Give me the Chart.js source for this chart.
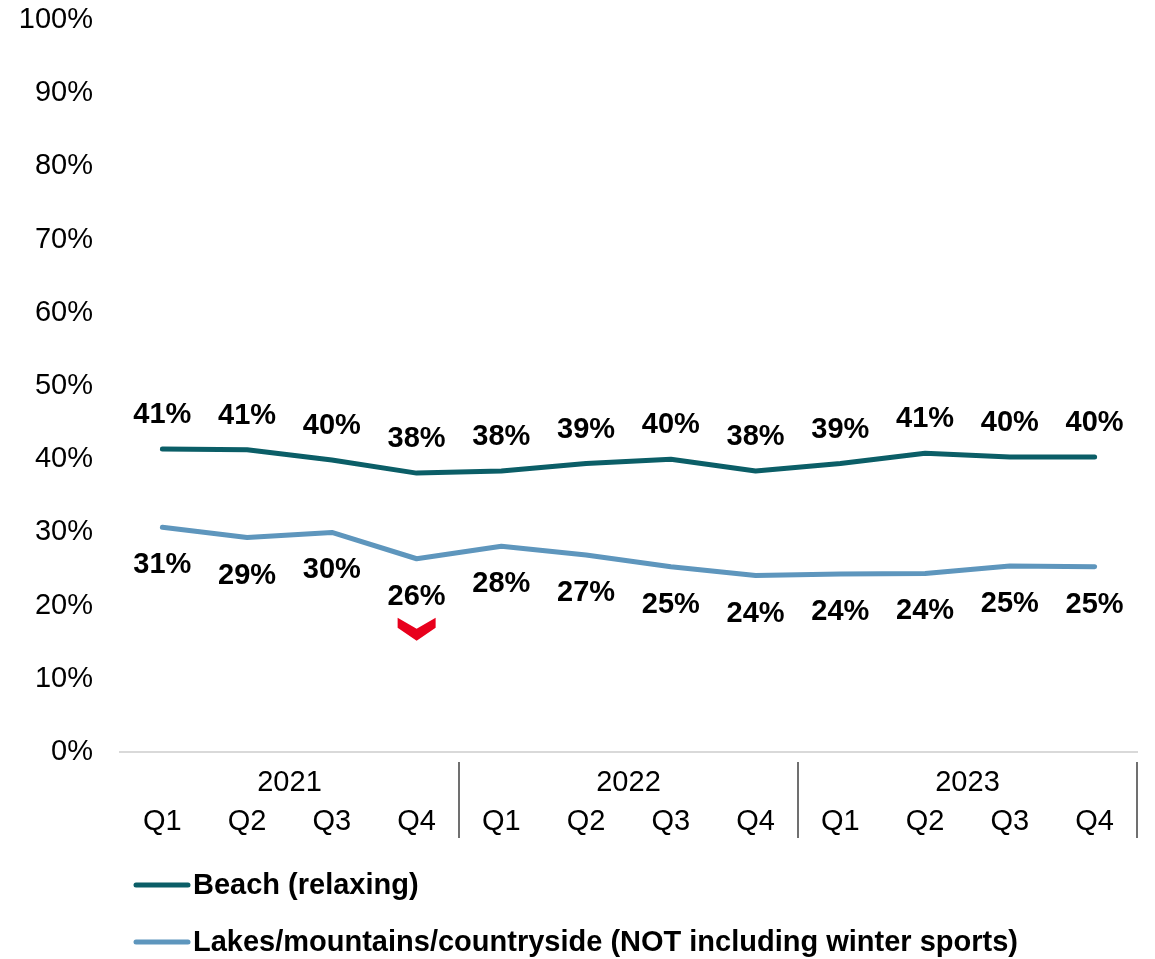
<!DOCTYPE html>
<html>
<head>
<meta charset="utf-8">
<title>Holiday type trend</title>
<script src="https://cdn.jsdelivr.net/npm/chart.js@4"></script>
<style>
  html, body { margin: 0; padding: 0; background: #fff; }
  #chartContainer { width: 1155px; height: 959px; position: relative; }
</style>
</head>
<body>
<div id="chartContainer"><canvas id="myChart"></canvas></div>
<script>
// Quarter labels, year groups and series values (percent)
const quarters = ['Q1', 'Q2', 'Q3', 'Q4', 'Q1', 'Q2', 'Q3', 'Q4', 'Q1', 'Q2', 'Q3', 'Q4'];
const years = ['2021', '2022', '2023'];
const beach = [41.4, 41.3, 39.9, 38.1, 38.4, 39.4, 40.0, 38.4, 39.4, 40.8, 40.3, 40.3];
const lakes = [30.7, 29.3, 30.0, 26.4, 28.1, 26.9, 25.3, 24.1, 24.3, 24.4, 25.4, 25.3];
const seriesNames = ['Beach (relaxing)', 'Lakes/mountains/countryside (NOT including winter sports)'];
const yTicks = [0, 10, 20, 30, 40, 50, 60, 70, 80, 90, 100];

const FONT = 'Arial, "Liberation Sans", sans-serif';
const beachColor = '#0b5e67';
const lakesColor = '#5e96bd';

// Bold percentage labels above / below each point
const valueLabels = {
  id: 'valueLabels',
  afterDatasetsDraw(chart) {
    const ctx = chart.ctx;
    ctx.save();
    ctx.font = 'bold 29px ' + FONT;
    ctx.fillStyle = '#000';
    ctx.textAlign = 'center';
    ctx.textBaseline = 'middle';
    chart.data.datasets.forEach((ds, i) => {
      const offset = i === 0 ? -34 : 38;
      chart.getDatasetMeta(i).data.forEach((pt, j) => {
        ctx.fillText(Math.round(ds.data[j]) + '%', pt.x, pt.y + offset);
      });
    });
    ctx.restore();
  }
};

// Year row, group separators, the red dip marker and the legend
const extras = {
  id: 'extras',
  afterDraw(chart) {
    const ctx = chart.ctx;
    const xs = chart.scales.x;
    const area = chart.chartArea;
    ctx.save();

    // year labels centred on each group of four quarters
    ctx.font = '29px ' + FONT;
    ctx.fillStyle = '#000';
    ctx.textAlign = 'center';
    ctx.textBaseline = 'middle';
    years.forEach((y, g) => {
      const x = (xs.getPixelForValue(g * 4 + 1) + xs.getPixelForValue(g * 4 + 2)) / 2;
      ctx.fillText(y, x, area.bottom + 31);
    });

    // separators after each year
    ctx.strokeStyle = '#404040';
    ctx.lineWidth = 1.5;
    years.forEach((y, g) => {
      const last = g * 4 + 3;
      const x = last + 1 < quarters.length
        ? (xs.getPixelForValue(last) + xs.getPixelForValue(last + 1)) / 2
        : area.right;
      ctx.beginPath();
      ctx.moveTo(x, area.bottom + 10);
      ctx.lineTo(x, area.bottom + 86);
      ctx.stroke();
    });

    // red chevron under the Q4 2021 dip
    const dip = chart.getDatasetMeta(1).data[3];
    const cx = dip.x, top = dip.y + 59;
    ctx.fillStyle = '#e8001c';
    ctx.beginPath();
    ctx.moveTo(cx - 19, top);
    ctx.lineTo(cx, top + 11);
    ctx.lineTo(cx + 19, top);
    ctx.lineTo(cx + 19, top + 10);
    ctx.lineTo(cx, top + 23);
    ctx.lineTo(cx - 19, top + 10);
    ctx.closePath();
    ctx.fill();

    // legend rows
    ctx.font = 'bold 29px ' + FONT;
    ctx.textAlign = 'left';
    ctx.lineCap = 'round';
    chart.data.datasets.forEach((ds, i) => {
      const y = area.bottom + 133 + i * 57;
      ctx.strokeStyle = ds.borderColor;
      ctx.lineWidth = 5;
      ctx.beginPath();
      ctx.moveTo(136, y);
      ctx.lineTo(188, y);
      ctx.stroke();
      ctx.fillStyle = '#000';
      ctx.fillText(ds.label, 193, y + 1);
    });

    ctx.restore();
  }
};

const ctx = document.getElementById('myChart').getContext('2d');
new Chart(ctx, {
  type: 'line',
  data: {
    labels: quarters,
    datasets: [
      {
        label: seriesNames[0],
        data: beach,
        borderColor: beachColor,
        borderWidth: 5,
        pointRadius: 0,
        borderJoinStyle: 'round',
        borderCapStyle: 'round'
      },
      {
        label: seriesNames[1],
        data: lakes,
        borderColor: lakesColor,
        borderWidth: 5,
        pointRadius: 0,
        borderJoinStyle: 'round',
        borderCapStyle: 'round'
      }
    ]
  },
  options: {
    responsive: true,
    maintainAspectRatio: false,
    animation: false,
    layout: { padding: { top: 20, right: 18, left: 0, bottom: 0 } },
    scales: {
      x: {
        type: 'category',
        offset: true,
        grid: { display: false, drawTicks: false },
        border: { display: true, color: '#d9d9d9', width: 2 },
        ticks: {
          color: '#000',
          font: { family: FONT, size: 29 },
          padding: 53,
          maxRotation: 0,
          autoSkip: false
        },
        afterFit(scale) {
          scale.height = 207;
          scale.paddingLeft = 0;
          scale.paddingRight = 0;
        }
      },
      y: {
        min: 0,
        max: 100,
        grid: { display: false, drawTicks: false },
        border: { display: false },
        afterBuildTicks(scale) { scale.ticks = yTicks.map(v => ({ value: v })); },
        ticks: {
          color: '#000',
          font: { family: FONT, size: 29 },
          padding: 27,
          callback: v => v + '%'
        },
        afterFit(scale) {
          scale.width = 120;
          scale.paddingTop = 0;
          scale.paddingBottom = 0;
        }
      }
    },
    plugins: {
      legend: { display: false },
      tooltip: { enabled: false }
    }
  },
  plugins: [valueLabels, extras]
});
</script>
</body>
</html>
